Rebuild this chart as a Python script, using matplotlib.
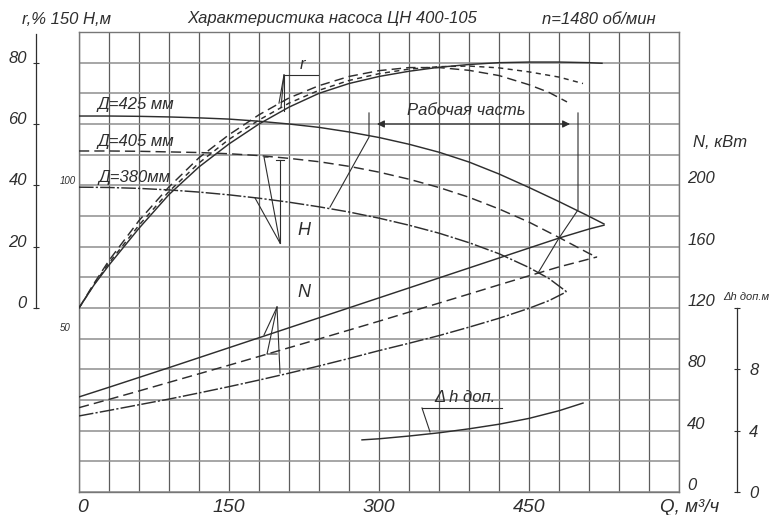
import numpy as np
import matplotlib
matplotlib.use('Agg')
import matplotlib.pyplot as plt
from matplotlib.transforms import ScaledTranslation

plt.rcParams['font.family'] = ['Liberation Sans', 'DejaVu Sans']
plt.rcParams['font.style'] = 'italic'

ink = '#2e2e2e'

# --- head H, m ---
q_h425 = [0, 30, 60, 90, 120, 150, 180, 210, 240, 270, 300, 330, 360, 390, 420, 450, 480, 510, 525]
h_425 = [122.6, 122.6, 122.5, 122.3, 122.0, 121.6, 120.9, 120.0, 118.9, 117.4, 115.6, 113.4, 110.8,
         107.6, 103.7, 99.3, 94.7, 89.9, 87.4]
q_h405 = [0, 30, 60, 90, 120, 150, 180, 210, 240, 270, 300, 330, 360, 390, 420, 450, 480, 510, 518]
h_405 = [111.2, 111.2, 111.1, 110.9, 110.7, 110.3, 109.7, 108.8, 107.7, 106.2, 104.3, 102.0, 99.3,
         96.1, 92.3, 88.0, 83.0, 77.8, 76.6]
q_h380 = [0, 30, 60, 90, 120, 150, 180, 210, 240, 270, 300, 330, 360, 390, 420, 450, 470, 488]
h_380 = [99.4, 99.3, 99.0, 98.5, 97.8, 96.9, 95.8, 94.5, 93.0, 91.3, 89.3, 87.0, 84.4, 81.3, 77.7,
         73.2, 69.6, 65.2]

# --- efficiency r, % ---
q_r1 = [0, 15, 30, 60, 90, 120, 150, 180, 210, 240, 270, 300, 330, 360, 390, 420, 450, 480, 510, 523]
r_1 = [0, 7.5, 14, 26, 37, 46, 53.5, 60, 65.5, 70, 73.2, 75.5, 77.2, 78.5, 79.4, 80, 80.2, 80.2, 80, 79.8]
q_r2 = [0, 15, 30, 60, 90, 120, 150, 180, 210, 240, 270, 300, 330, 360, 390, 420, 450, 480, 504]
r_2 = [0, 7.7, 14.7, 27, 38, 47.3, 55, 61.3, 66.8, 71, 74.2, 76.4, 77.9, 78.7, 78.9, 78.3, 77, 75.3, 73.2]
q_r3 = [0, 15, 30, 60, 90, 120, 150, 180, 210, 240, 270, 300, 330, 360, 390, 420, 450, 470, 488]
r_3 = [0, 8, 15.5, 28.5, 39.5, 49, 56.5, 63, 68.5, 72.5, 75.5, 77.4, 78.4, 78.4, 77.5, 75.8, 72.8, 70.3, 67.2]

# --- power N, kW ---
q_n425 = [0, 30, 60, 90, 120, 150, 180, 210, 240, 270, 300, 330, 360, 390, 420, 450, 480, 510, 525]
n_425 = [62, 68.3, 74.7, 81.1, 87.6, 94.1, 100.6, 107.1, 113.6, 120.1, 126.6, 133.1, 139.6, 146.1,
         152.6, 159.1, 165.6, 171.5, 174]
q_n405 = [0, 30, 60, 90, 120, 150, 180, 210, 240, 270, 300, 330, 360, 390, 420, 450, 480, 500, 518]
n_405 = [55, 60.4, 65.9, 71.5, 77.1, 82.7, 88.4, 94.1, 99.8, 105.6, 111.4, 117.3, 123.2, 129.1,
         135.1, 141.0, 146.8, 150.2, 153.3]
q_n380 = [0, 30, 60, 90, 120, 150, 180, 210, 240, 270, 300, 330, 360, 390, 420, 450, 470, 487]
n_380 = [49.6, 53.2, 56.9, 60.6, 64.6, 68.7, 73.0, 77.5, 82.2, 87.1, 92.2, 97.0, 102.0, 107.5,
         113.3, 119.8, 124.8, 130.4]

# --- NPSH dh, m ---
q_dh = [283, 300, 330, 360, 390, 420, 450, 480, 504]
dh = [3.4, 3.47, 3.65, 3.86, 4.12, 4.42, 4.8, 5.3, 5.8]

x_labels = {0: '0', 150: '150', 300: '300', 450: '450'}
r_ticks = [0, 20, 40, 60, 80]
n_ticks = [0, 40, 80, 120, 160, 200]
dh_ticks = [0, 4, 8, 12]
dh_ticklabels = ['0', '4', '8', '']

fig = plt.figure(figsize=(7.76, 5.15), dpi=100)
ax = fig.add_axes([79 / 776, 23 / 515, 600 / 776, 460 / 515])
ax.set_xlim(0, 600)
ax.set_ylim(0, 150)
ax.set_xticks(np.arange(0, 601, 30))
ax.set_xticklabels([x_labels.get(int(v), '') for v in np.arange(0, 601, 30)])
ax.set_yticks(np.arange(0, 151, 10))
ax.set_yticklabels([])
ax.tick_params(axis='both', length=0)
ax.tick_params(axis='x', labelsize=14, colors=ink, pad=5)
ax.xaxis.grid(True, color='#5c5c5c', lw=0.9)
ax.yaxis.grid(True, color='#8e8e8e', lw=1.1)
for s in ax.spines.values():
    s.set_color('#777777')
    s.set_linewidth(1.0)
# the "0" under the axis sits a little to the right in the original
right4 = ScaledTranslation(0.04, 0, fig.dpi_scale_trans)
first = ax.get_xticklabels()[0]
first.set_transform(first.get_transform() + right4)

# r scale on the far left (outward offsets are in points)
ax_r = ax.twinx()
ax_r.set_ylim(-60, 90)
ax_r.yaxis.set_ticks_position('left')
for k in ['top', 'bottom', 'right']:
    ax_r.spines[k].set_visible(False)
ax_r.spines['left'].set_position(('outward', 31))
ax_r.spines['left'].set_bounds(0, 89.5)
ax_r.spines['left'].set_color(ink)
ax_r.spines['left'].set_linewidth(0.9)
ax_r.set_yticks(r_ticks)
ax_r.tick_params(axis='y', direction='inout', length=5, width=0.8, colors=ink, labelsize=12, pad=4)
up6 = ScaledTranslation(0, 0.06, fig.dpi_scale_trans)
for lab in ax_r.get_yticklabels():
    lab.set_transform(lab.get_transform() + up6)

# N scale on the right edge of the grid
ax_n = ax.twinx()
ax_n.set_ylim(0, 300)
for s in ax_n.spines.values():
    s.set_visible(False)
ax_n.set_yticks(n_ticks)
ax_n.tick_params(axis='y', length=0, colors=ink, labelsize=12, pad=6)
up8 = ScaledTranslation(0, 0.08, fig.dpi_scale_trans)
for lab in ax_n.get_yticklabels():
    lab.set_transform(lab.get_transform() + up8)

# dh scale further right
ax_d = ax.twinx()
ax_d.set_ylim(0, 30)
for k in ['top', 'bottom', 'left']:
    ax_d.spines[k].set_visible(False)
ax_d.spines['right'].set_position(('outward', 42))
ax_d.spines['right'].set_bounds(0, 12)
ax_d.spines['right'].set_color(ink)
ax_d.spines['right'].set_linewidth(0.9)
ax_d.set_yticks(dh_ticks)
ax_d.set_yticklabels(dh_ticklabels)
ax_d.tick_params(axis='y', direction='inout', length=5, width=0.8, colors=ink, labelsize=12, pad=6)

# curves
lw = 1.05
ax.plot(q_h425, h_425, color=ink, lw=lw, zorder=3)
ax.plot(q_h405, h_405, color=ink, lw=lw, dashes=(7, 3.5), zorder=3)
ax.plot(q_h380, h_380, color=ink, lw=lw, dashes=(10, 1.5, 1.5, 1.5), zorder=3)

ax_r.plot(q_r1, r_1, color=ink, lw=lw)
ax_r.plot(q_r2, r_2, color=ink, lw=lw, dashes=(3.5, 3))
ax_r.plot(q_r3, r_3, color=ink, lw=lw, dashes=(6.5, 3.5))

ax_n.plot(q_n425, n_425, color=ink, lw=lw)
ax_n.plot(q_n405, n_405, color=ink, lw=lw, dashes=(7, 3.5))
ax_n.plot(q_n380, n_380, color=ink, lw=lw, dashes=(10, 1.5, 1.5, 1.5))

ax_d.plot(q_dh, dh, color=ink, lw=lw)

# leader lines (Q, H coordinates)
leaders = [
    [(205, 136), (239, 136)], [(205, 136), (200, 126.8)], [(205, 136), (202, 125.4)], [(205, 136), (205, 124.2)],
    [(201, 81.2), (176, 95.9)], [(201, 81.2), (185, 109.2), (189, 109.2)],
    [(201, 81.2), (201, 108.2)], [(197, 108.2), (205, 108.2)],
    [(198, 60.3), (185, 51.2)], [(198, 60.3), (188, 45), (198, 45)], [(198, 60.3), (201, 38.8)],
    [(290, 123.6), (290, 115.7), (251, 92.9)],
    [(499, 123.6), (499, 92), (480, 82.8), (459, 71.4)],
    [(343, 27.4), (423, 27.4)], [(343, 27.4), (351, 19.6)],
]
for seg in leaders:
    xs, ys = zip(*seg)
    ax.plot(xs, ys, color=ink, lw=0.8, zorder=3)

ax.annotate('', xy=(298, 120), xytext=(491, 120),
            arrowprops=dict(arrowstyle='<|-|>', color=ink, lw=0.8, mutation_scale=11,
                            shrinkA=0, shrinkB=0), zorder=4)

tk = dict(color=ink, fontsize=12, va='center')
ax.text(19, 126.2, 'Д=425 мм', **tk)
ax.text(19, 114.4, 'Д=405 мм', **tk)
ax.text(20, 102.7, 'Д=380мм', **tk)
ax.text(221, 139.5, 'r', **tk)
ax.text(218, 85.4, 'H', color=ink, fontsize=13, va='center')
ax.text(218, 65.2, 'N', color=ink, fontsize=13, va='center')
ax.text(387, 124.5, 'Рабочая часть', color=ink, fontsize=12, va='center', ha='center')
ax.text(386, 30.8, 'Δ h доп.', color=ink, fontsize=12, va='center', ha='center')

fig.text(22 / 776, 1 - 20 / 515, 'r,% 150 H,м', color=ink, fontsize=12, va='center')
fig.text(187 / 776, 1 - 19 / 515, 'Характеристика насоса ЦН 400-105', color=ink, fontsize=12, va='center')
fig.text(542 / 776, 1 - 19 / 515, 'n=1480 об/мин', color=ink, fontsize=12, va='center')
fig.text(693 / 776, 1 - 143 / 515, 'N, кВт', color=ink, fontsize=12, va='center')
fig.text(723 / 776, 1 - 297 / 515, 'Δh доп.м', color=ink, fontsize=8, va='center')
fig.text(76 / 776, 1 - 181 / 515, '100', color=ink, fontsize=7, va='center', ha='right')
fig.text(71 / 776, 1 - 328 / 515, '50', color=ink, fontsize=7, va='center', ha='right')
fig.text(660 / 776, 1 - 508 / 515, 'Q, м³/ч', color=ink, fontsize=13.5, va='center')

fig.savefig('out.png', dpi=100, facecolor='white')
